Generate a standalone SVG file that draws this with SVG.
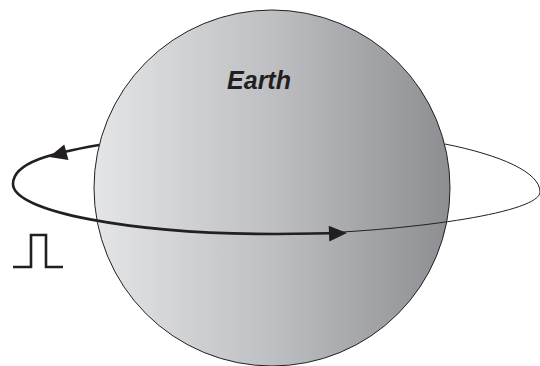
<svg xmlns="http://www.w3.org/2000/svg" width="540" height="366" viewBox="0 0 540 366">
<style>
.thick{fill:none;stroke:#231f20;stroke-width:2.6}
.thin{fill:none;stroke:#231f20;stroke-width:1}
.ah{fill:#231f20}
.lbl{font-family:"Liberation Sans",Arial,sans-serif;font-size:25px;font-weight:bold;font-style:italic;fill:#231f20}
</style>
<defs>
<linearGradient id="g" x1="0" y1="0" x2="1" y2="0">
<stop offset="0" stop-color="#e4e5e7"/>
<stop offset="0.5" stop-color="#bdbfc2"/>
<stop offset="1" stop-color="#8c8e92"/>
</linearGradient>
<path id="arrow" d="M0,0 L-18,-8 L-18,8 Z"/>
</defs>
<rect width="540" height="366" fill="#ffffff"/>
<g id="earth">
<circle cx="272" cy="188" r="178" fill="url(#g)" stroke="#231f20" stroke-width="1"/>
<text class="lbl" x="259" y="89" text-anchor="middle">Earth</text>
</g>
<g id="connectors">
<path class="thin" d="M300,234 C420,230 540,212 540,192 C540,172 500,155 445,144"/>
<path class="thick" d="M99,145 C53,153 13,162 13,184 C13,211.6 131,234 276,234 L332,233.3"/>
<use href="#arrow" class="ah" transform="translate(347,233) rotate(-2)"/>
<use href="#arrow" class="ah" transform="translate(49,157) rotate(164.7)"/>
</g>
<g id="pulse">
<path class="thick" stroke-width="2.2" d="M13,267 H31 V235 H46 V267 H63"/>
</g>
</svg>
